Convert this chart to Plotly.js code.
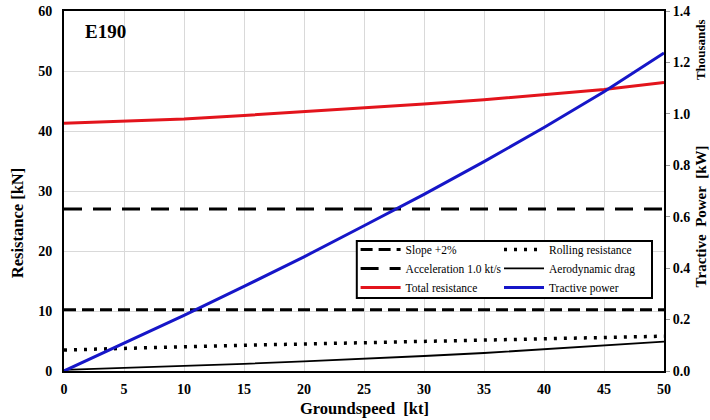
<!DOCTYPE html>
<html><head><meta charset="utf-8">
<script src="https://cdn.plot.ly/plotly-3.0.1.min.js"></script>
<style>html,body{margin:0;padding:0;background:#fff}#chart{width:710px;height:420px}</style>
</head><body><div id="chart"></div>
<script>
const speed = [0, 5, 10, 15, 20, 25, 30, 35, 40, 45, 50];
const slope = [10.2, 10.2, 10.2, 10.2, 10.2, 10.2, 10.2, 10.2, 10.2, 10.2, 10.2];
const accel = [27, 27, 27, 27, 27, 27, 27, 27, 27, 27, 27];
const rolling = [3.5, 3.8, 4.0, 4.3, 4.5, 4.7, 4.9, 5.1, 5.3, 5.5, 5.8];
const aero = [0.2, 0.5, 0.8, 1.2, 1.6, 2.0, 2.5, 3.0, 3.6, 4.2, 4.9];
const total = [41.3, 41.6, 42.0, 42.6, 43.2, 43.9, 44.5, 45.2, 46.0, 46.9, 48.1];
const power = [0, 0.107, 0.216, 0.329, 0.444, 0.565, 0.687, 0.814, 0.947, 1.086, 1.237];

const serif = "Liberation Serif, Times New Roman, serif";

const data = [
  {x: speed, y: slope, name: 'Slope +2%', mode: 'lines', legend: 'legend',
   line: {color: '#000', width: 3, dash: '12px,6px'}},
  {x: speed, y: rolling, name: 'Rolling resistance', mode: 'lines', legend: 'legend2',
   line: {color: '#000', width: 3.5, dash: '3px,7px'}},
  {x: speed, y: accel, name: 'Acceleration 1.0 kt/s', mode: 'lines', legend: 'legend',
   line: {color: '#000', width: 3, dash: '18px,11px'}},
  {x: speed, y: aero, name: 'Aerodynamic drag', mode: 'lines', legend: 'legend2',
   line: {color: '#000', width: 1.8}},
  {x: speed, y: total, name: 'Total resistance', mode: 'lines', legend: 'legend',
   line: {color: '#e3141c', width: 3}},
  {x: speed, y: power, name: 'Tractive power', mode: 'lines', legend: 'legend2', yaxis: 'y2',
   line: {color: '#1616c8', width: 3}}
];

const legFont = {family: serif, size: 11.5, color: '#000'};
const tickFont = {family: serif, size: 14, weight: 'bold', color: '#000'};
const layout = {
  width: 710, height: 420,
  margin: {l: 64, r: 46, t: 11, b: 49},
  paper_bgcolor: '#fff', plot_bgcolor: '#fff',
  font: {family: serif, color: '#000'},
  xaxis: {range: [0, 50], dtick: 5, showgrid: true, gridcolor: '#d9d9d9', gridwidth: 1,
    showline: true, linecolor: '#000', linewidth: 2, mirror: true, zeroline: false,
    ticks: 'outside', ticklen: 4, tickcolor: 'rgba(0,0,0,0)', tickfont: tickFont},
  yaxis: {range: [0, 60], dtick: 10, showgrid: true, gridcolor: '#d9d9d9', gridwidth: 1,
    showline: true, linecolor: '#000', linewidth: 2, mirror: true, zeroline: false,
    ticks: 'outside', ticklen: 7, tickcolor: 'rgba(0,0,0,0)', tickfont: tickFont},
  yaxis2: {range: [0, 1.4], dtick: 0.2, tickformat: '.1f', overlaying: 'y', side: 'right',
    showgrid: false, zeroline: false, showline: true, linecolor: '#000', linewidth: 2,
    ticks: 'outside', ticklen: 4, tickcolor: '#999', tickfont: tickFont},
  showlegend: true,
  legend: {x: 0.486, xanchor: 'left', y: 0.378, yanchor: 'top', bgcolor: 'rgba(0,0,0,0)',
    borderwidth: 0, font: legFont, itemwidth: 40, tracegroupgap: 0},
  legend2: {x: 0.725, xanchor: 'left', y: 0.378, yanchor: 'top', bgcolor: 'rgba(0,0,0,0)',
    borderwidth: 0, font: legFont, itemwidth: 40, tracegroupgap: 0},
  shapes: [
    {type: 'rect', xref: 'paper', yref: 'paper', x0: 0.488, x1: 0.98, y0: 0.203, y1: 0.361,
     line: {color: '#000', width: 2}, fillcolor: '#fff', layer: 'above'}
  ],
  annotations: [
    {text: 'E190', xref: 'paper', yref: 'paper', x: 0.032, y: 0.944, xanchor: 'left', yanchor: 'middle',
     showarrow: false, font: {family: serif, size: 19, weight: 'bold', color: '#000'}},
    {text: 'Groundspeed  [kt]', xref: 'paper', yref: 'paper', x: 0.5, y: -0.105, xanchor: 'center', yanchor: 'middle',
     showarrow: false, font: {family: serif, size: 16.5, weight: 'bold', color: '#000'}},
    {text: 'Resistance [kN]', xref: 'paper', yref: 'paper', x: -0.077, y: 0.41, textangle: -90,
     xanchor: 'center', yanchor: 'middle', showarrow: false,
     font: {family: serif, size: 16.5, weight: 'bold', color: '#000'}},
    {text: 'Tractive  Power  [kW]', xref: 'paper', yref: 'paper', x: 1.062, y: 0.43, textangle: -90,
     xanchor: 'center', yanchor: 'middle', showarrow: false,
     font: {family: serif, size: 15, weight: 'bold', color: '#000'}},
    {text: 'Thousands', xref: 'paper', yref: 'paper', x: 1.062, y: 0.892, textangle: -90,
     xanchor: 'center', yanchor: 'middle', showarrow: false,
     font: {family: serif, size: 13, weight: 'bold', color: '#000'}}
  ]
};

Plotly.newPlot('chart', data, layout, {displayModeBar: false, staticPlot: true});
</script>
</body></html>
